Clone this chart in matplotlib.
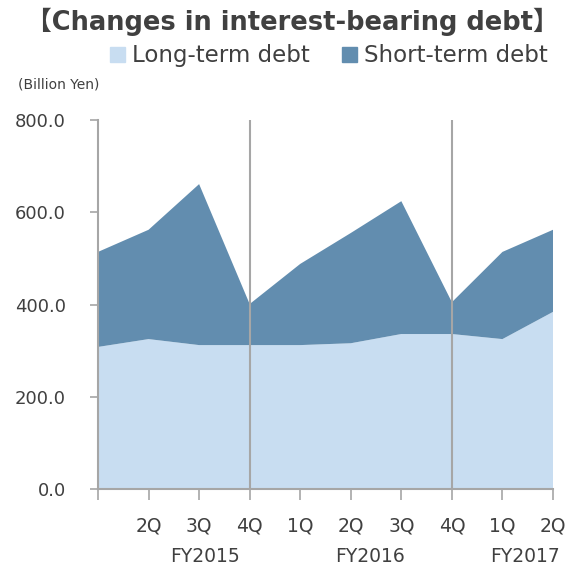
import matplotlib
matplotlib.use("Agg")
import matplotlib.pyplot as plt
from matplotlib.patches import Patch
import matplotlib.transforms as mtransforms
import numpy as np

quarters = ["", "2Q", "3Q", "4Q", "1Q", "2Q", "3Q", "4Q", "1Q", "2Q"]
long_term = [308, 325, 312, 312, 312, 316, 336, 336, 325, 384]
short_term = [206, 237, 349, 89, 176, 239, 288, 69, 189, 178]
fiscal_years = ["FY2015", "FY2016", "FY2017"]
fy_centers = [2.12, 5.38, 8.45]
yticks = [0, 200, 400, 600, 800]

plt.rcParams['font.family'] = ['DejaVu Sans', 'Noto Sans CJK JP']
text_color = '#404040'
grid_color = '#a6a6a6'
long_color = '#c8ddf1'
short_color = '#628daf'

fig = plt.figure(figsize=(5.81, 5.71), dpi=100)
ax = fig.add_axes([98 / 581, 82 / 571, 455 / 581, 369 / 571])

x = np.arange(len(quarters))
ax.stackplot(x, long_term, short_term, colors=[long_color, short_color], linewidth=0)

# fiscal year separators
for xv in [3, 7]:
    ax.axvline(xv, color=grid_color, linewidth=1.5, zorder=3)

ax.set_xlim(0, len(quarters) - 1)
ax.set_ylim(0, 800)
ax.set_yticks(yticks, [f"{v:.1f}" for v in yticks], fontsize=13, color=text_color)

ax.set_xticks(x, quarters, fontsize=13.5, color=text_color)
ax.tick_params(axis='x', length=8, width=1.2, color=grid_color, pad=12)
ax.tick_params(axis='y', length=6, width=1.2, color=grid_color, pad=17)
ax.set_xticks([3, 7], minor=True)
ax.tick_params(axis='x', which='minor', length=16, width=1.5, color=grid_color)

for s in ['top', 'right']:
    ax.spines[s].set_visible(False)
for s in ['left', 'bottom']:
    ax.spines[s].set_color(grid_color)
    ax.spines[s].set_linewidth(1.5)

trans = mtransforms.blended_transform_factory(ax.transData, fig.transFigure)
for fy, cx in zip(fiscal_years, fy_centers):
    ax.text(cx, 1 - 557 / 571, fy, transform=trans, ha='center', va='center',
            fontsize=13.5, color=text_color)

fig.text(292 / 581, 1 - 22 / 571, "【Changes in interest-bearing debt】", ha='center', va='center',
         fontsize=18.5, fontweight='bold', color=text_color)
fig.text(18 / 581, 1 - 85 / 571, "(Billion Yen)", ha='left', va='center',
         fontsize=10, color=text_color)

handles = [Patch(color=long_color, label="Long-term debt"),
           Patch(color=short_color, label="Short-term debt")]
leg = fig.legend(handles=handles, loc='center', bbox_to_anchor=(329 / 581, 1 - 56 / 571), ncol=2,
                 frameon=False, fontsize=16.5, handlelength=0.65, handleheight=0.65,
                 handletextpad=0.3, columnspacing=1.4)
for t in leg.get_texts():
    t.set_color(text_color)

plt.savefig("out.png", dpi=100)
